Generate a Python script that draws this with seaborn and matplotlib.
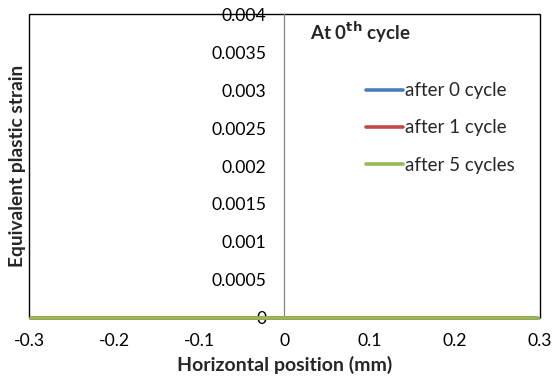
import matplotlib
matplotlib.use("Agg")
import matplotlib.pyplot as plt
from matplotlib.patches import Rectangle
import pandas as pd
import seaborn as sns

# Strain profiles along the horizontal position
position = [-0.298, -0.2, -0.1, 0.0, 0.1, 0.2, 0.297]
strain_0 = [0, 0, 0, 0, 0, 0, 0]
strain_1 = [0, 0, 0, 0, 0, 0, 0]
strain_5 = [0, 0, 0, 0, 0, 0, 0]
series_names = ["after 0 cycle", "after 1 cycle", "after 5 cycles"]
series_colors = ["#4A7EBB", "#BE4B48", "#98B954"]
x_ticks = [-0.3, -0.2, -0.1, 0, 0.1, 0.2, 0.3]
x_tick_labels = ["-0.3", "-0.2", "-0.1", "0", "0.1", "0.2", "0.3"]
y_ticks = [0, 0.0005, 0.001, 0.0015, 0.002, 0.0025, 0.003, 0.0035, 0.004]
y_tick_labels = ["0", "0.0005", "0.001", "0.0015", "0.002", "0.0025", "0.003", "0.0035", "0.004"]

df = pd.DataFrame({
    "position": position * 3,
    "strain": strain_0 + strain_1 + strain_5,
    "series": [series_names[0]] * len(position)
              + [series_names[1]] * len(position)
              + [series_names[2]] * len(position),
})

sns.set_style("white")
plt.rcParams["font.family"] = ["Lato", "DejaVu Sans"]

fig = plt.figure(figsize=(5.52, 3.83), dpi=100)
ax = fig.add_axes([0.0525, 0.170, 0.9255, 0.793])

sns.lineplot(data=df, x="position", y="strain", hue="series",
             palette=series_colors, hue_order=series_names,
             linewidth=2.6, ax=ax, legend=True)
for line in ax.lines:
    line.set_clip_on(False)
    line.set_zorder(5)

ax.set_xlim(-0.3, 0.3)
ax.set_ylim(0, 0.004)

# y axis sits at x = 0, frame drawn around the plot area
for s in ["top", "right"]:
    ax.spines[s].set_visible(False)
ax.spines["left"].set_position(("data", 0))
ax.spines["left"].set_color("#868686")
ax.spines["left"].set_linewidth(0.9)
ax.spines["bottom"].set_color("#868686")
ax.spines["bottom"].set_linewidth(0.9)
ax.add_patch(Rectangle((0, 0), 1, 1, transform=ax.transAxes, fill=False,
                       edgecolor="black", linewidth=1.0, clip_on=False, zorder=0.5))

ax.set_xticks(x_ticks)
ax.set_xticklabels(x_tick_labels)
ax.set_yticks(y_ticks)
ax.set_yticklabels(y_tick_labels)
ax.tick_params(axis="both", direction="out", length=4, width=0.8,
               color="#868686", labelsize=12.7, labelcolor="black")
ax.tick_params(axis="x", pad=7)
ax.tick_params(axis="y", pad=9)

ax.set_xlabel("Horizontal position (mm)", fontsize=14, fontweight="bold", labelpad=5)
ax.set_ylabel("Equivalent plastic strain", fontsize=13.8, fontweight="bold")
ax.yaxis.set_label_coords(-0.005, 0.5)

ax.text(0.550, 0.94, r"At 0$^{\mathbf{th}}$ cycle", transform=ax.transAxes,
        fontsize=13.5, fontweight="bold", va="center", ha="left")

leg = ax.legend(loc="upper left", bbox_to_anchor=(0.6445, 0.80), frameon=False,
                fontsize=13.5, handlelength=2.0, handletextpad=0.08,
                labelspacing=1.07, borderaxespad=0)
for line in leg.get_lines():
    line.set_linewidth(2.6)

fig.savefig("out.png", dpi=100)
